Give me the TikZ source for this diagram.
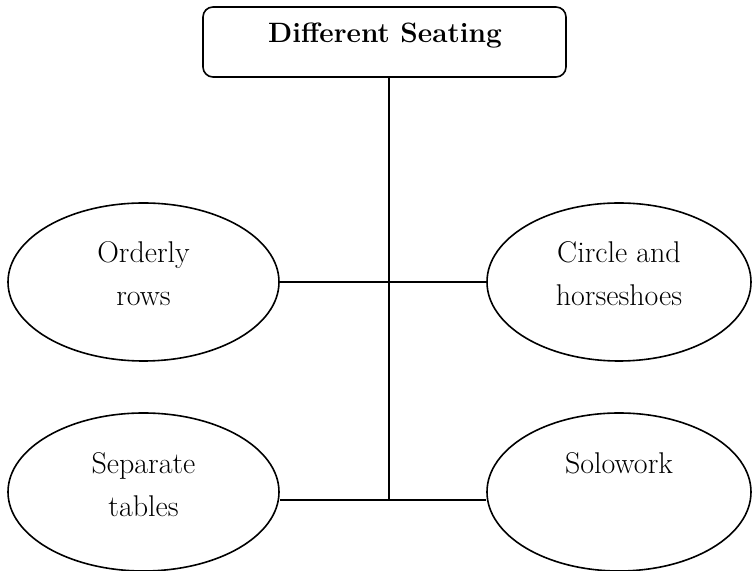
\documentclass[tikz,border=0pt]{standalone}
\usepackage{tikz}
\usetikzlibrary{shapes.geometric, positioning}

\begin{document}
\begin{tikzpicture}[x=0.5pt, y=-0.5pt,
  seat/.style={draw, ellipse, line width=0.8pt, inner sep=0pt, minimum height=79pt},
  seattext/.style={font=\fontsize{15}{21.5}\selectfont, align=center, anchor=base, inner sep=0pt},
  headbox/.style={draw, rounded corners=5pt, line width=0.8pt, minimum width=181.5pt, minimum height=35pt},
  link/.style={line width=1pt}]
  \useasboundingbox (0,0) rectangle (752,571);

  % Heading
  \node[headbox] (head) at (384.5,42) {};
  \node[seattext, font=\fontsize{14}{21.5}\selectfont] (headtxt) at (385,43) {\textbf{Different Seating}};

  % Seating kinds
  \node[seat, minimum width=135.5pt] (rows) at (143.5,282) {};
  \node[seat, minimum width=132pt] (circle) at (619,282) {};
  \node[seat, minimum width=135.5pt] (tables) at (143.5,492) {};
  \node[seat, minimum width=132pt] (solo) at (619,492) {};

  % base anchor sits on the last line
  \node[seattext] (rowstxt) at (143.5,306) {Orderly\\rows};
  \node[seattext] (circletxt) at (619,306) {Circle and\\horseshoes};
  \node[seattext] (tablestxt) at (143.5,517) {Separate\\tables};
  \node[seattext] (solotxt) at (619,474) {Solowork};

  % Connectors
  \coordinate (hub) at (389,500);
  \draw[link] (hub |- head.south) -- (hub);
  \draw[link] (rows.east) -- (circle.west);
  \draw[link] (hub -| tables.east) -- (hub -| solo.west);
\end{tikzpicture}
\end{document}
